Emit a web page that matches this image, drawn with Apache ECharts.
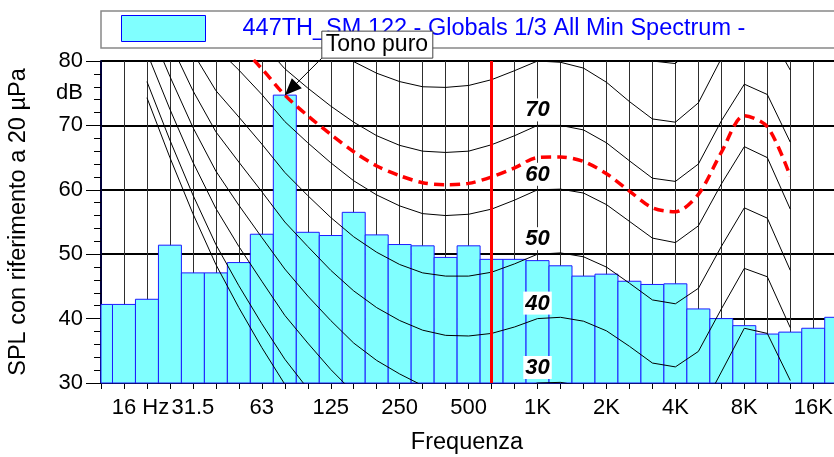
<!DOCTYPE html>
<html>
<head>
<meta charset="utf-8">
<script src="https://cdn.jsdelivr.net/npm/echarts@6/dist/echarts.min.js"></script>
<style>
  html, body { margin: 0; padding: 0; background: #fff; }
  #chart { width: 834px; height: 457px; }
</style>
</head>
<body>
<div id="chart"></div>
<script>
// bande 1/3 d'ottava, indice 0 = 12.5 Hz ... indice 32 = 20 kHz
const bandLabels = ['12.5','16','20','25','31.5','40','50','63','80','100','125','160','200','250','315','400','500','630','800','1K','1.25K','1.6K','2K','2.5K','3.15K','4K','5K','6.3K','8K','10K','12.5K','16K','20K'];
const tickIndex = [1, 4, 7, 10, 13, 16, 19, 22, 25, 28, 31];
const tickText  = ['16 Hz', '31.5', '63', '125', '250', '500', '1K', '2K', '4K', '8K', '16K'];

const seriesName = '447TH_SM 122 - Globals 1/3 All Min Spectrum -';
// livelli misurati (dB)
const spectrum = [42.2, 42.2, 43.0, 51.4, 47.1, 47.1, 48.7, 53.1, 74.7, 53.4, 52.9, 56.5, 53.0, 51.5, 51.3, 49.5, 51.3,
                  49.2, 49.2, 49.0, 48.2, 46.6, 46.9, 45.8, 45.3, 45.4, 41.5, 40.0, 38.9, 37.6, 37.9, 38.5, 40.2];

// isofoniche da 20 Hz a 12.5 kHz (indice di banda 2..30)
const isoStart = 2;
const isoThreshold = [74.3, 65.0, 56.3, 48.4, 41.7, 35.5, 29.8, 25.1, 20.7, 16.8, 13.8, 11.2, 8.9, 7.2, 6.0, 5.0, 4.4, 4.2, 3.7, 2.6, 1.0, -1.2, -3.6, -3.9, -1.1, 6.6, 15.3, 16.4, 11.6];
const iso10 = [76.8, 67.7, 59.2, 51.5, 45.1, 39.2, 33.7, 29.1, 24.8, 21.0, 18.1, 15.6, 13.4, 11.9, 10.9, 10.1, 9.9, 10.0, 9.7, 8.7, 7.2, 5.0, 2.6, 2.2, 4.8, 12.2, 20.4, 21.0, 15.5];
const iso20 = [81.3, 72.5, 64.3, 57.1, 51.2, 45.8, 40.5, 36.2, 32.1, 28.5, 25.7, 23.3, 21.4, 20.1, 19.4, 19.1, 19.4, 20.0, 19.9, 19.2, 17.7, 15.4, 13.0, 12.5, 15.0, 22.0, 29.4, 29.2, 22.7];
const iso30 = [86.0, 77.6, 69.7, 62.9, 57.6, 52.6, 47.7, 43.5, 39.7, 36.2, 33.5, 31.4, 29.6, 28.6, 28.2, 28.3, 29.0, 30.0, 30.1, 29.5, 28.0, 25.7, 23.2, 22.6, 25.0, 31.7, 38.5, 37.7, 30.4];
const iso40 = [91.0, 82.9, 75.4, 69.0, 64.3, 59.7, 55.0, 51.2, 47.5, 44.3, 41.7, 39.7, 38.2, 37.4, 37.3, 37.7, 38.7, 40.0, 40.2, 39.6, 38.1, 35.7, 33.1, 32.5, 34.9, 41.5, 47.8, 46.5, 38.6];
const iso50 = [96.2, 88.5, 81.3, 75.4, 71.3, 67.1, 62.7, 59.1, 55.7, 52.7, 50.3, 48.4, 47.1, 46.6, 46.6, 47.2, 48.5, 50.0, 50.2, 49.6, 48.0, 45.5, 42.9, 42.3, 44.7, 51.2, 57.2, 55.6, 47.5];
const iso60 = [101.7, 94.4, 87.6, 82.1, 78.6, 74.8, 70.6, 67.3, 64.2, 61.4, 59.2, 57.5, 56.3, 56.0, 56.2, 57.0, 58.4, 60.0, 60.1, 59.5, 57.7, 55.1, 52.5, 51.8, 54.4, 60.9, 66.7, 65.0, 57.0];
const iso70 = [107.6, 100.7, 94.3, 89.2, 86.4, 82.8, 78.8, 75.8, 73.0, 70.5, 68.4, 66.9, 66.0, 65.8, 66.0, 67.0, 68.4, 70.0, 70.0, 69.3, 67.3, 64.5, 61.8, 61.3, 64.0, 70.7, 76.4, 74.8, 67.4];
const iso80 = [113.7, 107.3, 101.3, 96.6, 94.6, 91.1, 87.4, 84.7, 82.2, 79.9, 78.1, 76.8, 76.0, 75.9, 76.2, 77.1, 78.5, 80.0, 79.8, 78.9, 76.7, 73.7, 71.0, 70.5, 73.5, 80.4, 86.3, 84.9, 78.6];
const iso90 = [120.3, 114.4, 108.7, 104.4, 103.2, 99.8, 96.3, 94.0, 91.8, 89.8, 88.1, 87.0, 86.4, 86.4, 86.6, 87.5, 88.7, 90.0, 89.5, 88.4, 85.9, 82.7, 80.0, 79.6, 82.9, 90.1, 96.4, 95.5, 90.9];
// isofonica che passa per il tono (tratteggiata rossa)
const isoTone = [104.6, 97.5, 90.9, 85.6, 82.5, 78.8, 74.7, 71.5, 68.6, 65.9, 63.7, 62.2, 61.1, 60.8, 61.0, 62.0, 63.4, 65.0, 65.1, 64.4, 62.5, 59.8, 57.2, 56.6, 59.3, 65.8, 71.5, 69.8, 62.1];
const isoLabelValues = [30, 40, 50, 60, 70];
const labelBand = 19;   // 1 kHz
const toneBand = 8;     // 80 Hz
const limitBand = 17;   // 630 Hz

const FONT = '"Liberation Sans", Arial, sans-serif';
const yMin = 30, yMax = 80;

function renderBar(params, api) {
  const i = api.value(0), v = api.value(1);
  const a = api.coord([i - 0.5, v]);
  const b = api.coord([i + 0.5, yMin]);
  const cs = params.coordSys;
  const shape = echarts.graphic.clipRectByRect(
    { x: a[0], y: a[1], width: b[0] - a[0], height: b[1] - a[1] },
    { x: cs.x, y: cs.y, width: cs.width, height: cs.height }
  );
  if (!shape) return;
  return { type: 'rect', shape: shape, style: { fill: '#80ffff', stroke: '#1c1cff', lineWidth: 1 } };
}

function renderTone(params, api) {
  const tip = api.coord([api.value(0), api.value(1)]);
  const bx = tip[0] + 37, by = tip[1] - 64;
  return {
    type: 'group',
    children: [
      { type: 'line', shape: { x1: tip[0] + 8, y1: tip[1] - 8, x2: bx, y2: tip[1] - 37 }, style: { stroke: '#000', lineWidth: 1 } },
      { type: 'polygon', shape: { points: [[tip[0], tip[1]], [tip[0] + 17, tip[1] - 7], [tip[0] + 7, tip[1] - 17]] }, style: { fill: '#000' } },
      { type: 'rect', shape: { x: bx, y: by, width: 111, height: 27 }, style: { fill: '#fff', stroke: '#444', lineWidth: 1 } },
      { type: 'text', style: { x: bx + 4, y: by + 14, text: 'Tono puro', font: '23px ' + FONT, fill: '#000',
        align: 'left', verticalAlign: 'middle', textAlign: 'left', textVerticalAlign: 'middle' } }
    ]
  };
}

// etichette delle isofoniche a 1 kHz
function renderIsoLabel(params, api) {
  const p = api.coord([api.value(0), api.value(1)]);
  return {
    type: 'text',
    style: {
      x: p[0], y: p[1] - 4, text: String(api.value(2)),
      font: 'italic bold 22px ' + FONT, fill: '#000',
      align: 'center', verticalAlign: 'bottom', textAlign: 'center', textVerticalAlign: 'bottom',
      backgroundColor: '#fff', padding: [1, 2, 0, 2]
    }
  };
}

const isoCurves = [isoThreshold, iso10, iso20, iso30, iso40, iso50, iso60, iso70, iso80, iso90];
const isoSeries = isoCurves.map(function (arr) {
  return {
    type: 'line',
    data: arr.map(function (v, i) { return [isoStart + i, v]; }),
    showSymbol: false, symbol: 'none', silent: true, clip: true, z: 3,
    lineStyle: { color: '#000', width: 1 }
  };
});

const chart = echarts.init(document.getElementById('chart'));
chart.setOption({
  animation: false,
  textStyle: { fontFamily: FONT },
  grid: { left: 101, top: 61, width: 749, height: 322, outerBoundsMode: 'none' },
  legend: {
    left: 101, top: 11,
    padding: [4, 400, 6, 20],
    borderColor: '#888', borderWidth: 1.5, backgroundColor: '#fff',
    itemWidth: 84, itemHeight: 26,
    selectedMode: false,
    textStyle: { fontSize: 23.5, color: '#0000ff', fontFamily: FONT, padding: [0, 0, 0, 32], lineHeight: 26 },
    data: [{ name: seriesName, icon: 'rect', itemStyle: { color: '#80ffff', borderColor: '#0000ff', borderWidth: 1 } }]
  },
  xAxis: {
    type: 'value', min: 0, max: 32.6, interval: 1,
    axisLine: { lineStyle: { color: '#000', width: 2 } },
    axisTick: { length: 6, lineStyle: { color: '#000' } },
    splitLine: { show: true, lineStyle: { color: '#2e2e2e', width: 1 } },
    axisLabel: {
      fontSize: 22, color: '#000', margin: 14, fontFamily: FONT,
      showMinLabel: true, showMaxLabel: true,
      formatter: function (v) {
        const r = Math.round(v);
        if (Math.abs(v - r) > 1e-6) return '';
        const k = tickIndex.indexOf(r);
        if (k < 0) return '';
        return k === 0 ? '{hz|' + tickText[k] + '}' : tickText[k];
      },
      rich: { hz: { fontSize: 22, color: '#000', fontFamily: FONT, padding: [0, 0, 0, 33] } }
    },
    name: 'Frequenza', nameLocation: 'middle', nameGap: 48,
    nameTextStyle: { fontSize: 23.5, color: '#000', fontFamily: FONT, padding: [0, 17, 0, 0] }
  },
  yAxis: [{
    type: 'value', min: yMin, max: yMax, interval: 10,
    axisLine: { show: true, lineStyle: { color: '#00003a', width: 2 } },
    axisTick: { show: true, length: 15, lineStyle: { color: '#000' } },
    minorTick: { show: true, splitNumber: 5, length: 7, lineStyle: { color: '#000' } },
    splitLine: { show: true, lineStyle: { color: '#000', width: 2 } },
    axisLabel: { fontSize: 22, color: '#000', margin: 18, fontFamily: FONT },
    name: 'SPL con riferimento a 20 µPa', nameLocation: 'middle', nameGap: 70,
    nameTextStyle: { fontSize: 23.5, color: '#000', fontFamily: FONT }
  }, {
    type: 'value', min: yMin, max: yMax, interval: 5, position: 'left', offset: 0,
    axisLine: { show: false }, axisTick: { show: false }, splitLine: { show: false },
    axisLabel: { fontSize: 22, color: '#000', margin: 18, fontFamily: FONT,
      formatter: function (v) { return v === 75 ? 'dB' : ''; } }
  }],
  series: [{
    name: seriesName,
    type: 'custom',
    renderItem: renderBar,
    data: spectrum.map(function (v, i) { return [i, v]; }),
    encode: { x: 0, y: 1 },
    itemStyle: { color: '#80ffff', borderColor: '#0000ff' },
    silent: true, z: 2
  }].concat(isoSeries, [{
    type: 'line',
    data: isoTone.map(function (v, i) { return [isoStart + i, v]; }),
    showSymbol: false, symbol: 'none', silent: true, clip: true, z: 4, smooth: 0.3,
    lineStyle: { color: '#ff0000', width: 3.5, type: [10, 6] },
    markLine: {
      silent: true, symbol: ['none', 'none'], animation: false,
      label: { show: false },
      lineStyle: { color: '#ff0000', width: 3, type: 'solid' },
      data: [{ xAxis: limitBand }]
    }
  }, {
    type: 'custom',
    renderItem: renderIsoLabel,
    data: isoLabelValues.map(function (v) { return [labelBand, v, v]; }),
    encode: { x: 0, y: 1 },
    clip: false, silent: true, z: 6
  }, {
    type: 'custom',
    renderItem: renderTone,
    data: [[toneBand, spectrum[toneBand]]],
    encode: { x: 0, y: 1 },
    clip: false, silent: true, z: 10
  }])
});
</script>
</body>
</html>
